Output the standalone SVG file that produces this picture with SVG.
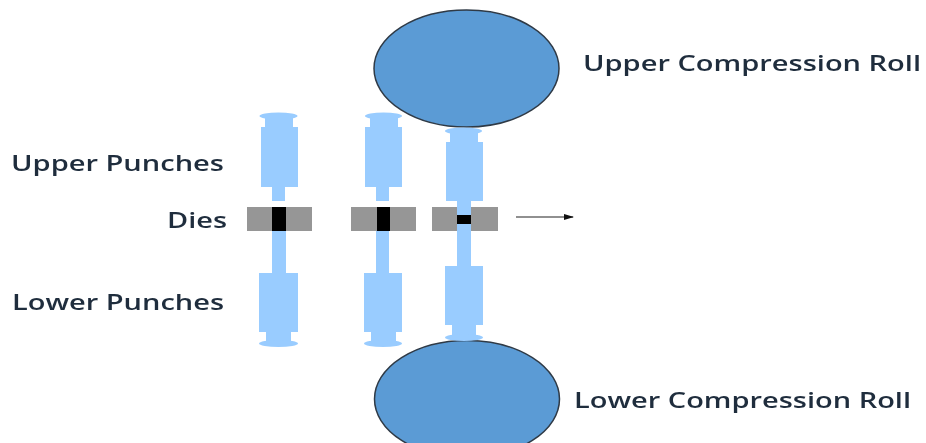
<svg xmlns="http://www.w3.org/2000/svg" width="926" height="443" viewBox="0 0 926 443">
<style>
.punch{fill:#99ccff}
.die{fill:#969696}
.cavity{fill:#000}
.roll{fill:#5b9bd5;stroke:#2f3a46;stroke-width:1.5}
.label{font-family:"Open Sans","Noto Sans",sans-serif;font-size:22px;font-weight:600;fill:#1f2d3d}
.conn{stroke:#222;stroke-width:1.2;fill:none}
</style>
<defs>
<marker id="arrow" markerWidth="10" markerHeight="8" refX="9" refY="3" orient="auto" markerUnits="userSpaceOnUse"><path d="M0 0L10 3L0 6Z" fill="#111"/></marker>
<filter id="soft" x="-5%" y="-5%" width="110%" height="110%" color-interpolation-filters="sRGB"><feGaussianBlur stdDeviation="0.6"/></filter>
<filter id="softer" x="-5%" y="-20%" width="110%" height="140%" color-interpolation-filters="sRGB"><feGaussianBlur stdDeviation="0.35"/></filter>
</defs>
<rect width="926" height="443" fill="#fff"/>
<g id="upper-roll" filter="url(#softer)"><ellipse class="roll" cx="466.500" cy="68.500" rx="92.500" ry="58.500"/></g>
<g id="lower-roll" filter="url(#softer)"><ellipse class="roll" cx="467" cy="399" rx="92.500" ry="58.500"/></g>
<g id="punch-1" filter="url(#soft)">
<ellipse class="punch" cx="278.500" cy="116" rx="19" ry="3.500"/>
<path class="punch" d="M265 116H293V127H298V187H285V201H272V187H261V127H265Z"/>
<path class="punch" d="M272 230H286V273H298V332H291V344H266V332H259V273H272Z"/>
<ellipse class="punch" cx="278.500" cy="343.500" rx="19.500" ry="3.500"/>
</g>
<g id="die-1" filter="url(#softer)"><rect class="die" x="247" y="207" width="65" height="24"/><rect class="cavity" x="272" y="207" width="14" height="24"/></g>
<g id="punch-2" filter="url(#soft)">
<ellipse class="punch" cx="383.500" cy="116" rx="18.500" ry="3.500"/>
<path class="punch" d="M370 116H398V127H402V187H389V201H376V187H365V127H370Z"/>
<path class="punch" d="M376 230H389V273H402V332H396V344H371V332H364V273H376Z"/>
<ellipse class="punch" cx="383" cy="343.500" rx="19" ry="3.500"/>
</g>
<g id="die-2" filter="url(#softer)"><rect class="die" x="351" y="207" width="65" height="24"/><rect class="cavity" x="377" y="207" width="13" height="24"/></g>
<g id="punch-3" filter="url(#soft)">
<ellipse class="punch" cx="463.500" cy="131" rx="18.500" ry="3.500"/>
<path class="punch" d="M450 131H478V142H483V201H471V207H457V201H446V142H450Z"/>
<path class="punch" d="M457 230H471V266H483V325H476V338H452V325H445V266H457Z"/>
<ellipse class="punch" cx="464" cy="337.500" rx="19" ry="3.500"/>
</g>
<g id="die-3" filter="url(#softer)"><rect class="die" x="432" y="207" width="66" height="24"/><rect class="punch" x="457" y="207" width="14" height="24"/><rect class="cavity" x="457" y="215" width="14" height="9"/></g>
<g id="connectors"><path class="conn" d="M516 217H573" marker-end="url(#arrow)"/></g>
<g id="labels" filter="url(#softer)">
<text class="label" x="583" y="71" textLength="338" lengthAdjust="spacingAndGlyphs">Upper Compression Roll</text>
<text class="label" x="574" y="408" textLength="337" lengthAdjust="spacingAndGlyphs">Lower Compression Roll</text>
<text class="label" x="11" y="171" textLength="213" lengthAdjust="spacingAndGlyphs">Upper Punches</text>
<text class="label" x="167" y="228" textLength="60" lengthAdjust="spacingAndGlyphs">Dies</text>
<text class="label" x="12" y="310" textLength="212" lengthAdjust="spacingAndGlyphs">Lower Punches</text>
</g>
</svg>
